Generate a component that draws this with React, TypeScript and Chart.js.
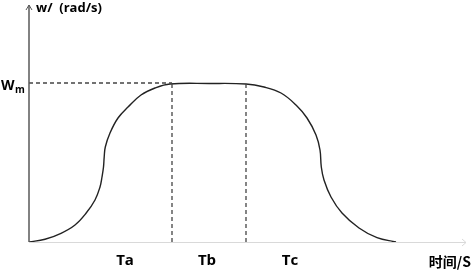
import React, { useEffect, useRef } from "react";
import { Chart, registerables } from "chart.js";

Chart.register(...registerables);

// time axis (arbitrary units) and angular velocity (arbitrary units)
const curveX = [0, 16, 32, 46, 57, 66, 71, 73, 74.5, 75.2, 76.3, 81, 89, 99, 112, 126, 141, 180, 217, 235, 252, 267, 278, 287, 291, 292.3, 295, 302, 313, 330, 348, 367];
const curveY = [0, 2.7, 8.7, 17, 28.7, 42, 55, 65, 75, 85, 95, 109, 124, 135, 147, 154, 158, 158.5, 158, 155, 149, 137, 124, 107, 92, 75, 62, 45, 29, 14, 4.3, 0];
const wm = 159;
const tBounds = [143, 217];
const phaseLabels = ["Ta", "Tb", "Tc"];
const phaseCenters = [96, 178, 261];
const xMax = 436;
const yMax = 234;

const App: React.FC = () => {
  const ref = useRef<HTMLCanvasElement>(null);

  useEffect(() => {
    if (!ref.current) return;
    document.body.style.margin = "0";
    const curve = curveX.map((x, i) => ({ x, y: curveY[i] }));
    const dashColor = "#444";

    const decor = {
      id: "decor",
      afterDatasetsDraw(chart: any) {
        const { ctx, scales } = chart;
        const xs = scales.x;
        const ys = scales.y;
        const x0 = xs.getPixelForValue(0);
        const y0 = ys.getPixelForValue(0);
        ctx.save();
        // x axis
        ctx.strokeStyle = "#d9d9d9";
        ctx.lineWidth = 1;
        const xe = xs.getPixelForValue(xMax) + 1;
        ctx.beginPath();
        ctx.moveTo(x0, y0 + 0.5);
        ctx.lineTo(xe, y0 + 0.5);
        ctx.stroke();
        ctx.beginPath();
        ctx.moveTo(xe - 4, y0 - 3);
        ctx.lineTo(xe, y0 + 0.5);
        ctx.lineTo(xe - 4, y0 + 4);
        ctx.stroke();
        // y axis
        ctx.strokeStyle = "#595959";
        ctx.lineWidth = 1.5;
        const yt = ys.getPixelForValue(yMax) - 3;
        ctx.beginPath();
        ctx.moveTo(x0, y0);
        ctx.lineTo(x0, yt);
        ctx.stroke();
        ctx.lineWidth = 1;
        ctx.beginPath();
        ctx.moveTo(x0 - 3, yt + 5);
        ctx.lineTo(x0, yt);
        ctx.lineTo(x0 + 3, yt + 5);
        ctx.stroke();
        // texts
        ctx.fillStyle = "#000";
        ctx.textBaseline = "middle";
        ctx.textAlign = "left";
        ctx.font = "bold 13px 'Open Sans', 'Noto Sans CJK SC', sans-serif";
        ctx.fillText("w/  (rad/s)", x0 + 7, 8);
        const wy = ys.getPixelForValue(wm);
        ctx.font = "bold 14px 'Open Sans', sans-serif";
        ctx.fillText("W", 1, wy + 3);
        ctx.font = "bold 10px 'Open Sans', sans-serif";
        ctx.fillText("m", 15, wy + 7);
        ctx.textAlign = "center";
        ctx.font = "bold 15px 'Open Sans', 'Noto Sans CJK SC', sans-serif";
        phaseLabels.forEach((t, i) => {
          ctx.fillText(t, xs.getPixelForValue(phaseCenters[i]), y0 + 19);
        });
        ctx.font = "bold 14px 'Noto Sans CJK SC', 'Open Sans', sans-serif";
        ctx.textAlign = "right";
        ctx.fillText("时间/S", 471, y0 + 20);
        ctx.restore();
      },
    };

    const chart = new Chart(ref.current, {
      type: "line",
      data: {
        datasets: [
          {
            data: [{ x: 0, y: wm }, { x: tBounds[0], y: wm }],
            borderColor: dashColor,
            borderWidth: 1.3,
            borderDash: [4, 3],
            pointRadius: 0,
          },
          {
            data: [{ x: tBounds[0], y: 0 }, { x: tBounds[0], y: wm }],
            borderColor: dashColor,
            borderWidth: 1.3,
            borderDash: [4, 3],
            pointRadius: 0,
          },
          {
            data: [{ x: tBounds[1], y: 0 }, { x: tBounds[1], y: wm }],
            borderColor: dashColor,
            borderWidth: 1.3,
            borderDash: [4, 3],
            pointRadius: 0,
          },
          {
            data: curve,
            borderColor: "#222",
            borderWidth: 1.4,
            pointRadius: 0,
            tension: 0.4,
          },
        ],
      },
      options: {
        animation: false,
        responsive: false,
        maintainAspectRatio: false,
        layout: { padding: { left: 29, right: 7, top: 8, bottom: 29 } },
        plugins: { legend: { display: false }, tooltip: { enabled: false } },
        scales: {
          x: { type: "linear", min: 0, max: xMax, display: false },
          y: { type: "linear", min: 0, max: yMax, display: false },
        },
      },
      plugins: [decor],
    });
    return () => chart.destroy();
  }, []);

  return (
    <div style={{ position: "fixed", left: 0, top: 0, width: 472, height: 271, background: "#fff" }}>
      <canvas ref={ref} width={472} height={271} />
    </div>
  );
};

export default App;
